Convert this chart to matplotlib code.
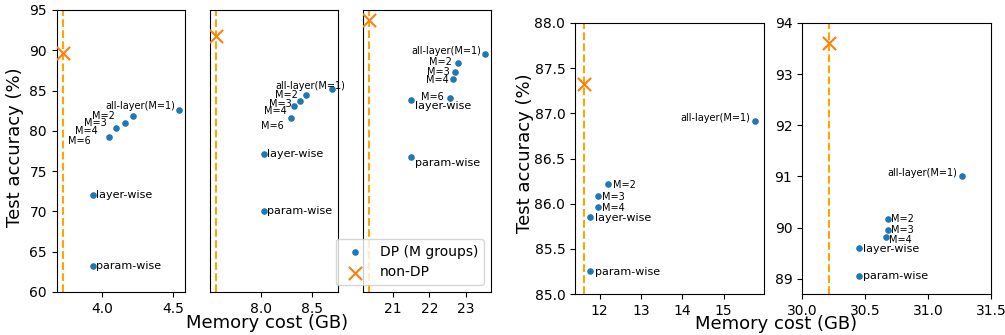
import numpy as np
import matplotlib
matplotlib.use('Agg')
import matplotlib.pyplot as plt

# labels for the DP points
labels7 = ['all-layer(M=1)', 'M=2', 'M=3', 'M=4', 'M=6', 'layer-wise', 'param-wise']
labels6 = ['all-layer(M=1)', 'M=2', 'M=3', 'M=4', 'layer-wise', 'param-wise']

# panel 1
p1_mem = [4.54, 4.22, 4.16, 4.10, 4.05, 3.94, 3.94]
p1_acc = [82.6, 81.85, 81.0, 80.4, 79.2, 72.0, 63.2]
p1_nondp_mem, p1_nondp_acc = 3.725, 89.7
# panel 2
p2_mem = [8.70, 8.44, 8.38, 8.33, 8.30, 8.035, 8.035]
p2_acc = [85.2, 84.4, 83.7, 83.05, 81.6, 77.1, 70.1]
p2_nondp_mem, p2_nondp_acc = 7.56, 91.8
# panel 3
p3_mem = [23.53, 22.79, 22.69, 22.66, 22.57, 21.49, 21.49]
p3_acc = [89.6, 88.4, 87.3, 86.4, 84.1, 83.8, 76.7]
p3_nondp_mem, p3_nondp_acc = 20.34, 93.76
# panel 4
p4_mem = [15.77, 12.20, 11.95, 11.95, 11.77, 11.77]
p4_acc = [86.91, 86.22, 86.09, 85.96, 85.85, 85.25]
p4_nondp_mem, p4_nondp_acc = 11.61, 87.33
# panel 5
p5_mem = [31.27, 30.68, 30.68, 30.67, 30.45, 30.45]
p5_acc = [91.01, 90.17, 89.95, 89.82, 89.59, 89.06]
p5_nondp_mem, p5_nondp_acc = 30.217, 93.61

# label offsets in pixels (dx, dy, ha)
off1 = [(-4, 4, 'right'), (-18, 0, 'right'), (-18, 0, 'right'), (-18, -3, 'right'),
        (-18, -4, 'right'), (3, 0, 'left'), (3, 0, 'left')]
off2 = [(-57, 3, 'left'), (-8, 0, 'right'), (-8, -3, 'right'), (-8, -5, 'right'),
        (-8, -8, 'right'), (3, 0, 'left'), (3, 0, 'left')]
off3 = [(-4, 3, 'right'), (-6, 1, 'right'), (-5, 0, 'right'), (-5, -1, 'right'),
        (-6, 1, 'right'), (4, -6, 'left'), (4, -6, 'left')]
off4 = [(-5, 3, 'right'), (5, -1, 'left'), (4, -1, 'left'), (4, -1, 'left'),
        (5, -1, 'left'), (5, -1, 'left')]
off5 = [(-5, 3, 'right'), (3, 0, 'left'), (3, 0, 'left'), (3, -3, 'left'),
        (4, -1, 'left'), (4, 0, 'left')]

W, H = 1005, 335
fig = plt.figure(figsize=(W / 100, H / 100), dpi=100)

def box(x0, x1, top, bot):
    return [x0 / W, 1 - bot / H, (x1 - x0) / W, (bot - top) / H]

ax1 = fig.add_axes(box(56.7, 185, 10, 292))
ax2 = fig.add_axes(box(210, 338, 10, 292))
ax3 = fig.add_axes(box(363, 491, 10, 292))
ax4 = fig.add_axes(box(575, 764, 23, 294))
ax5 = fig.add_axes(box(802, 991, 23, 294))

panels = [
    (ax1, p1_mem, p1_acc, p1_nondp_mem, p1_nondp_acc, labels7, off1),
    (ax2, p2_mem, p2_acc, p2_nondp_mem, p2_nondp_acc, labels7, off2),
    (ax3, p3_mem, p3_acc, p3_nondp_mem, p3_nondp_acc, labels7, off3),
    (ax4, p4_mem, p4_acc, p4_nondp_mem, p4_nondp_acc, labels6, off4),
    (ax5, p5_mem, p5_acc, p5_nondp_mem, p5_nondp_acc, labels6, off5),
]

for ax, mem, acc, nm, na, labs, offs in panels:
    ax.axvline(nm, color='orange', ls='--', lw=1.5, zorder=1)
    ax.scatter(mem, acc, s=14, color='tab:blue', label='DP (M groups)', zorder=3)
    ax.scatter([nm], [na], marker='x', s=90, linewidths=1.5, color='tab:orange',
               label='non-DP', zorder=3)
    for lab, x, y, (dx, dy, ha) in zip(labs, mem, acc, offs):
        fs = 8 if 'wise' in lab else 7
        ax.annotate(lab, (x, y), xytext=(dx, dy), textcoords='offset pixels',
                    ha=ha, va='center', fontsize=fs)
    ax.tick_params(labelsize=10)

for ax in (ax1, ax2, ax3):
    ax.set_ylim(60, 95)
ax1.set_yticks(np.arange(60, 96, 5))
for ax in (ax2, ax3):
    ax.tick_params(left=False, labelleft=False)

ax1.set_xticks([4.0, 4.5])
ax2.set_xticks([8.0, 8.5])
ax3.set_xticks([21, 22, 23])
ax4.set_xticks([12, 13, 14, 15])
ax4.set_ylim(85, 88)
ax4.set_yticks(np.arange(85, 88.01, 0.5))
ax5.set_xlim(30, 31.5)
ax5.set_xticks([30.0, 30.5, 31.0, 31.5])
ax5.set_ylim(88.7, 94)
ax5.set_yticks(np.arange(89, 95, 1))

ax3.legend(loc='lower right', fontsize=10)

fig.text(15 / W, 1 - 146.7 / H, 'Test accuracy (%)', rotation=90,
         ha='center', va='center', fontsize=13)
fig.text(525 / W, 1 - 153.3 / H, 'Test accuracy (%)', rotation=90,
         ha='center', va='center', fontsize=13)
fig.text(266.7 / W, 1 - 323 / H, 'Memory cost (GB)', ha='center', va='center', fontsize=13)
fig.text(776 / W, 1 - 324 / H, 'Memory cost (GB)', ha='center', va='center', fontsize=13)

fig.savefig('out.png', dpi=100)
